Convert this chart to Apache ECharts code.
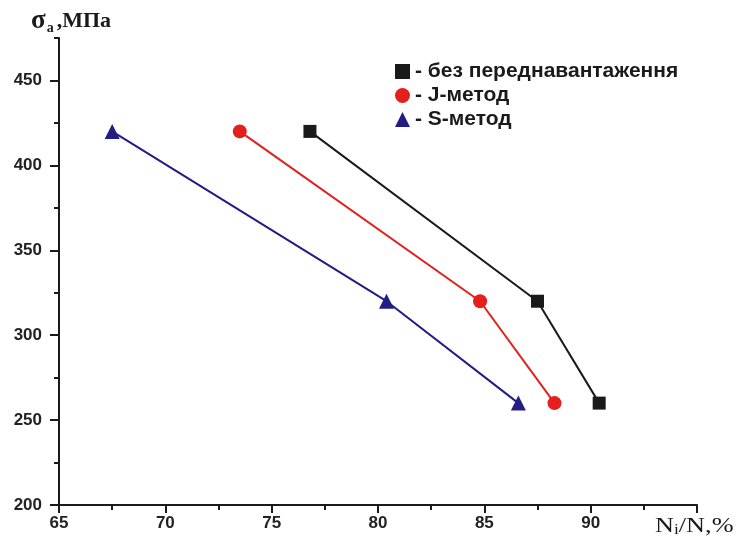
<!DOCTYPE html>
<html>
<head>
<meta charset="utf-8">
<script src="https://cdn.jsdelivr.net/npm/echarts@6/dist/echarts.min.js"></script>
<style>html,body{margin:0;padding:0;background:#fff}#c{width:739px;height:542px}</style>
</head>
<body>
<div id="c"></div>
<script>
var seriesNames = ['без переднавантаження', 'J-метод', 'S-метод'];
var xNoPreload = [76.8, 87.5, 90.4];
var yNoPreload = [420, 320, 260];
var xJ = [73.5, 84.8, 88.3];
var yJ = [420, 320, 260];
var xS = [67.5, 80.4, 86.6];
var yS = [420, 320, 260];
var xMajorTicks = [65, 70, 75, 80, 85, 90, 95];
var xMinorTicks = [67.5, 72.5, 77.5, 82.5, 87.5, 92.5];
var xLabels = [65, 70, 75, 80, 85, 90];
var yMajorTicks = [200, 250, 300, 350, 400, 450];
var yMinorTicks = [225, 275, 325, 375, 425, 475];
var yLabels = [200, 250, 300, 350, 400, 450];

function pairs(xs, ys) { return xs.map(function (x, i) { return [x, ys[i]]; }); }

var chart = echarts.init(document.getElementById('c'), null, {renderer: 'canvas'});
var axisLine = {show: true, lineStyle: {color: '#1a1a1a', width: 2}};
var labelStyle = {color: '#222', fontFamily: 'Liberation Sans, Arial', fontWeight: 'bold', fontSize: 17};
chart.setOption({
  animation: false,
  backgroundColor: '#fff',
  grid: {left: 59, right: 42, top: 38, bottom: 37, containLabel: false},
  xAxis: [{
    type: 'value', min: 65, max: 95, interval: 5, position: 'bottom',
    axisLine: axisLine,
    axisTick: {show: true, length: 8, lineStyle: {color: '#1a1a1a', width: 2}, customValues: xMajorTicks},
    axisLabel: Object.assign({margin: 10, customValues: xLabels}, labelStyle),
    splitLine: {show: false}
  }, {
    type: 'value', min: 65, max: 95, interval: 5, position: 'bottom',
    axisLine: {show: false},
    axisTick: {show: true, length: 5, lineStyle: {color: '#1a1a1a', width: 2}, customValues: xMinorTicks},
    axisLabel: {show: false},
    splitLine: {show: false}
  }],
  yAxis: [{
    type: 'value', min: 200, max: 475, interval: 50, position: 'left',
    axisLine: axisLine,
    axisTick: {show: true, length: 9, lineStyle: {color: '#1a1a1a', width: 2}, customValues: yMajorTicks},
    axisLabel: Object.assign({margin: 17, customValues: yLabels}, labelStyle),
    splitLine: {show: false}
  }, {
    type: 'value', min: 200, max: 475, interval: 25, position: 'left',
    axisLine: {show: false},
    axisTick: {show: true, length: 5, lineStyle: {color: '#1a1a1a', width: 2}, customValues: yMinorTicks},
    axisLabel: {show: false},
    splitLine: {show: false}
  }],
  legend: {
    orient: 'vertical', left: 390, top: 56, itemWidth: 15, itemHeight: 15, itemGap: 3,
    formatter: function (n) { return '- ' + n; },
    textStyle: {color: '#1a1a1a', fontFamily: 'Liberation Sans, Arial', fontWeight: 'bold', fontSize: 21, lineHeight: 21},
    data: [
      {name: seriesNames[0], icon: 'rect'},
      {name: seriesNames[1], icon: 'circle'},
      {name: seriesNames[2], icon: 'triangle'}
    ]
  },
  graphic: [
    {type: 'text', x: 31, y: 7, style: {
      text: '{s|σ}{a|a}{t|,МПа}',
      rich: {
        s: {fontFamily: 'Liberation Serif, Times New Roman', fontWeight: 'bold', fontSize: 27, fill: '#1a1a1a'},
        a: {fontFamily: 'Liberation Serif, Times New Roman', fontWeight: 'bold', fontSize: 14, fill: '#1a1a1a', padding: [14, 3, 0, 1]},
        t: {fontFamily: 'Liberation Serif, Times New Roman', fontWeight: 'bold', fontSize: 22, fill: '#1a1a1a'}
      }
    }},
    {type: 'text', x: 655, y: 515, scaleX: 1.25, style: {
      text: '{n|N}{i|i}{t|/N,%}',
      rich: {
        n: {fontFamily: 'Liberation Serif, Times New Roman', fontSize: 21, fill: '#1a1a1a'},
        i: {fontFamily: 'Liberation Serif, Times New Roman', fontSize: 14, fill: '#1a1a1a', padding: [8, 0, 0, 0]},
        t: {fontFamily: 'Liberation Serif, Times New Roman', fontSize: 21, fill: '#1a1a1a'}
      }
    }}
  ],
  series: [
    {name: seriesNames[0], type: 'line', data: pairs(xNoPreload, yNoPreload), symbol: 'rect', symbolSize: 13,
      lineStyle: {color: '#1a1a1a', width: 2}, itemStyle: {color: '#1a1a1a'}},
    {name: seriesNames[1], type: 'line', data: pairs(xJ, yJ), symbol: 'circle', symbolSize: 14,
      lineStyle: {color: '#e4201c', width: 2}, itemStyle: {color: '#e4201c'}},
    {name: seriesNames[2], type: 'line', data: pairs(xS, yS), symbol: 'triangle', symbolSize: 15,
      lineStyle: {color: '#221c85', width: 2}, itemStyle: {color: '#221c85'}}
  ]
});
</script>
</body>
</html>
